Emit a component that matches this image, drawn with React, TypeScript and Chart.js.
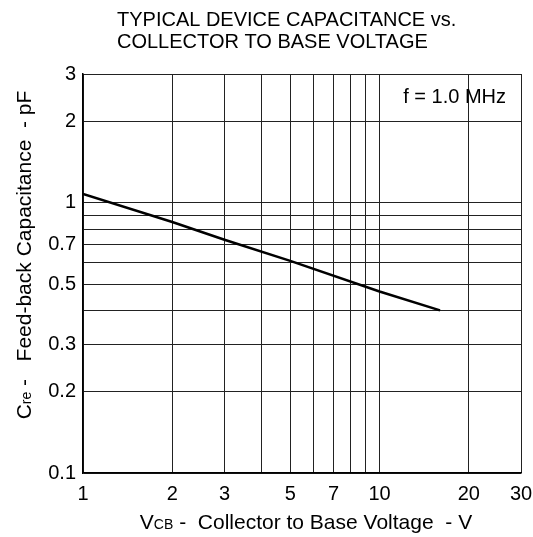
import React, { useEffect, useRef } from "react";
import { Chart, registerables } from "chart.js";

Chart.register(...registerables);

const vcbValues = [1, 2, 3, 5, 10, 16];
const creValues = [1.08, 0.85, 0.73, 0.61, 0.47, 0.4];

const xGridTicks = [1, 2, 3, 4, 5, 6, 7, 8, 9, 10, 20, 30];
const xTickLabels = [1, 2, 3, 5, 7, 10, 20, 30];
const yGridTicks = [0.1, 0.2, 0.3, 0.4, 0.5, 0.6, 0.7, 0.8, 0.9, 1, 2, 3];
const yTickLabels = [0.1, 0.2, 0.3, 0.5, 0.7, 1, 2, 3];

const titleLines = ["TYPICAL DEVICE CAPACITANCE vs.", "COLLECTOR TO BASE VOLTAGE"];
const noteText = "f = 1.0 MHz";

const FONT = "'Liberation Sans', Arial, sans-serif";

const textPlugin = {
  id: "texts",
  afterDraw(chart: any) {
    const ctx = chart.ctx as CanvasRenderingContext2D;
    const area = chart.chartArea;
    ctx.save();
    ctx.fillStyle = "#000";
    ctx.textBaseline = "alphabetic";
    // title
    ctx.font = `20px ${FONT}`;
    ctx.textAlign = "left";
    ctx.fillText(titleLines[0], 117, 26);
    ctx.fillText(titleLines[1], 117, 48);
    // note
    ctx.textAlign = "right";
    ctx.fillText(noteText, area.right - 15, 103);

    const drawParts = (parts: { t: string; f: string }[], cx: number, cy: number) => {
      let total = 0;
      const widths = parts.map((p) => {
        ctx.font = p.f;
        const w = ctx.measureText(p.t).width;
        total += w;
        return w;
      });
      let x = cx - total / 2;
      ctx.textAlign = "left";
      parts.forEach((p, i) => {
        ctx.font = p.f;
        ctx.fillText(p.t, x, cy);
        x += widths[i];
      });
    };
    const big = `21px ${FONT}`;
    const small = `14px ${FONT}`;
    // x axis title
    drawParts(
      [
        { t: "V", f: big },
        { t: "CB", f: small },
        { t: " -  Collector to Base Voltage  - V", f: big },
      ],
      (area.left + area.right) / 2 + 4,
      529
    );
    // y axis title
    ctx.translate(31, 255);
    ctx.rotate(-Math.PI / 2);
    drawParts(
      [
        { t: "C", f: big },
        { t: "re", f: small },
        { t: " -   Feed-back Capacitance  - pF", f: big },
      ],
      0,
      0
    );
    ctx.restore();
  },
};

export default function App() {
  const ref = useRef<HTMLCanvasElement>(null);
  useEffect(() => {
    if (!ref.current) return;
    const tickFont = { family: FONT, size: 20 };
    const chart = new Chart(ref.current, {
      type: "line",
      data: {
        datasets: [
          {
            data: vcbValues.map((v, i) => ({ x: v, y: creValues[i] })),
            borderColor: "#000",
            borderWidth: 2.5,
            pointRadius: 0,
            tension: 0,
            fill: false,
          },
        ],
      },
      options: {
        animation: false,
        responsive: false,
        layout: { padding: { top: 74, right: 12, left: 0, bottom: 0 } },
        plugins: { legend: { display: false }, tooltip: { enabled: false }, title: { display: false } },
        scales: {
          x: {
            type: "logarithmic",
            min: 1,
            max: 30,
            afterBuildTicks: (s: any) => {
              s.ticks = xGridTicks.map((v) => ({ value: v }));
            },
            afterFit: (s: any) => {
              s.height = 64;
              s.paddingRight = 12;
              s.paddingLeft = 0;
            },
            ticks: {
              autoSkip: false,
              maxRotation: 0,
              color: "#000",
              font: tickFont,
              padding: 9,
              callback: (v: any) => (xTickLabels.includes(Number(v)) ? String(v) : ""),
            },
            grid: { color: "#222", lineWidth: 1, drawTicks: false },
            border: { color: "#000", width: 1.5 },
          },
          y: {
            type: "logarithmic",
            min: 0.1,
            max: 3,
            afterBuildTicks: (s: any) => {
              s.ticks = yGridTicks.map((v) => ({ value: v }));
            },
            afterFit: (s: any) => {
              s.width = 83;
              s.paddingTop = 0;
              s.paddingBottom = 0;
            },
            ticks: {
              autoSkip: false,
              color: "#000",
              font: tickFont,
              padding: 7,
              callback: (v: any) => (yTickLabels.includes(Number(v)) ? String(v) : ""),
            },
            grid: { color: "#222", lineWidth: 1, drawTicks: false },
            border: { color: "#000", width: 1.5 },
          },
        },
      },
      plugins: [textPlugin],
    } as any);
    return () => chart.destroy();
  }, []);
  return (
    <div style={{ position: "fixed", left: 0, top: 0, width: 533, height: 537, background: "#fff" }}>
      <canvas ref={ref} width={533} height={537} style={{ display: "block" }} />
    </div>
  );
}
